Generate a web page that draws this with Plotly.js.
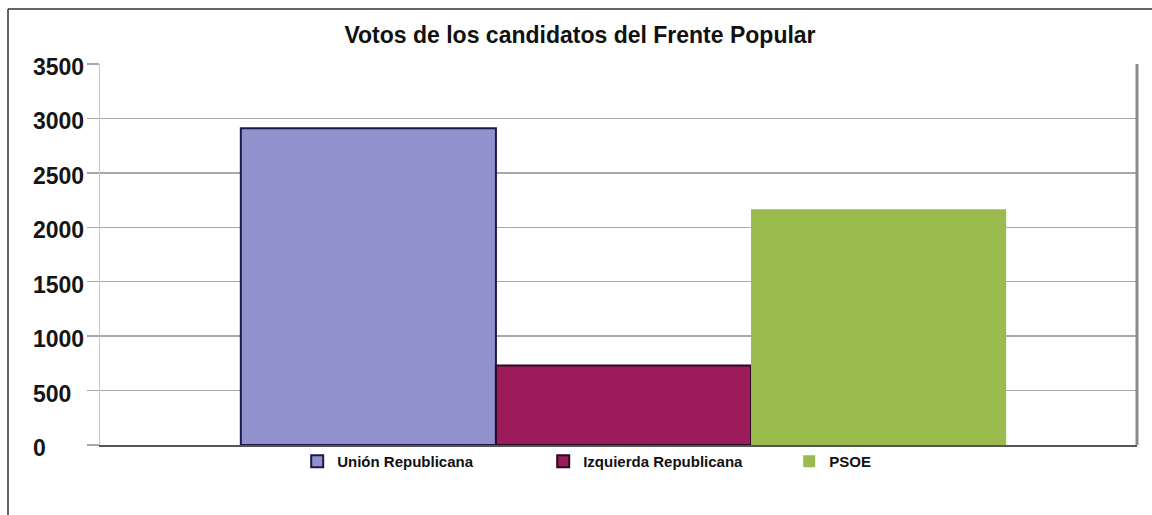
<!DOCTYPE html>
<html><head><meta charset="utf-8">
<script src="https://cdn.plot.ly/plotly-3.0.1.min.js"></script>
<style>html,body{margin:0;padding:0;background:#fff;}#chart{width:1152px;height:515px;}</style>
</head><body><div id="chart"></div>
<script>
const categories = ["Votos"];
const seriesNames = ["Unión Republicana", "Izquierda Republicana", "PSOE"];
const unionRepublicana = [2910];
const izquierdaRepublicana = [730];
const psoe = [2165];
const tickValues = [0, 500, 1000, 1500, 2000, 2500, 3000, 3500];
const tickLabels = ["0", "500", "1000", "1500", "2000", "2500", "3000", "3500"];

const seriesValues = [unionRepublicana, izquierdaRepublicana, psoe];
const colors = ["#9191cd", "#9b1b5b", "#9bbb4e"];
const lineColors = ["#1a1a4a", "#2a0a20", "#9bbb4e"];
const lineWidths = [2, 2, 0];

const FONT = "Liberation Sans, Arial, Helvetica, sans-serif";

const traces = seriesNames.map((name, i) => ({
  type: "bar",
  name: name,
  x: categories,
  y: seriesValues[i],
  marker: {color: colors[i], line: {color: lineColors[i], width: lineWidths[i]}},
  hoverinfo: "none"
}));

const L = 100, R = 15, T = 64, B = 70;
const plotW = 1152 - L - R;
const plotH = 515 - T - B;

const annotations = tickValues.map((v, i) => ({
  xref: "paper", yref: "y",
  x: (31 - L) / plotW, y: v,
  xanchor: "left", yanchor: "middle",
  yshift: -3,
  text: "<b>" + tickLabels[i] + "</b>",
  showarrow: false,
  font: {family: FONT, size: 23, color: "#151515"}
}));

const layout = {
  width: 1152, height: 515,
  margin: {l: L, r: R, t: T, b: B, pad: 0},
  paper_bgcolor: "#ffffff",
  plot_bgcolor: "#ffffff",
  title: {
    text: "<b>Votos de los candidatos del Frente Popular</b>",
    x: (580 - L) / plotW, xref: "paper", xanchor: "center",
    y: 1 - 35 / 515, yref: "container", yanchor: "middle",
    font: {family: FONT, size: 23, color: "#111111"}
  },
  barmode: "group",
  bargap: 0.262,
  bargroupgap: 0,
  showlegend: true,
  legend: {
    orientation: "h",
    x: 0.546, xanchor: "center",
    y: 0.0, yanchor: "top",
    font: {family: FONT, size: 15, color: "#111111", weight: "bold"},
    itemwidth: 30,
    entrywidth: 201,
    tracegroupgap: 0,
    bgcolor: "rgba(0,0,0,0)"
  },
  xaxis: {
    range: [-0.5048, 0.4952],
    showticklabels: false,
    showgrid: false,
    zeroline: false,
    showline: true,
    linecolor: "#555555",
    linewidth: 2,
    ticks: ""
  },
  yaxis: {
    range: [0, 3500],
    tickvals: tickValues,
    ticktext: tickLabels,
    showticklabels: false,
    showgrid: true,
    gridcolor: "#a8a8a8",
    gridwidth: 1.5,
    zeroline: false,
    showline: true,
    linecolor: "#c8c8c8",
    linewidth: 1.5,
    ticks: "outside",
    ticklen: 12,
    tickcolor: "#a8a8a8",
    tickwidth: 1.5
  },
  annotations: annotations,
  shapes: [
    {type: "line", xref: "paper", yref: "paper", x0: 1, x1: 1, y0: 0, y1: 1,
     line: {color: "#8a8a8a", width: 3}},
    {type: "line", xref: "paper", yref: "paper", x0: (8 - L) / plotW, x1: 1 + R / plotW + 0.01,
     y0: 1 + (T - 9) / plotH, y1: 1 + (T - 9) / plotH, line: {color: "#333333", width: 1.5}},
    {type: "line", xref: "paper", yref: "paper", x0: (8 - L) / plotW, x1: (8 - L) / plotW,
     y0: 1 + (T - 9) / plotH, y1: -B / plotH - 0.02, line: {color: "#333333", width: 1.5}}
  ]
};

Plotly.newPlot("chart", traces, layout, {displayModeBar: false, staticPlot: true});
</script>
</body></html>
